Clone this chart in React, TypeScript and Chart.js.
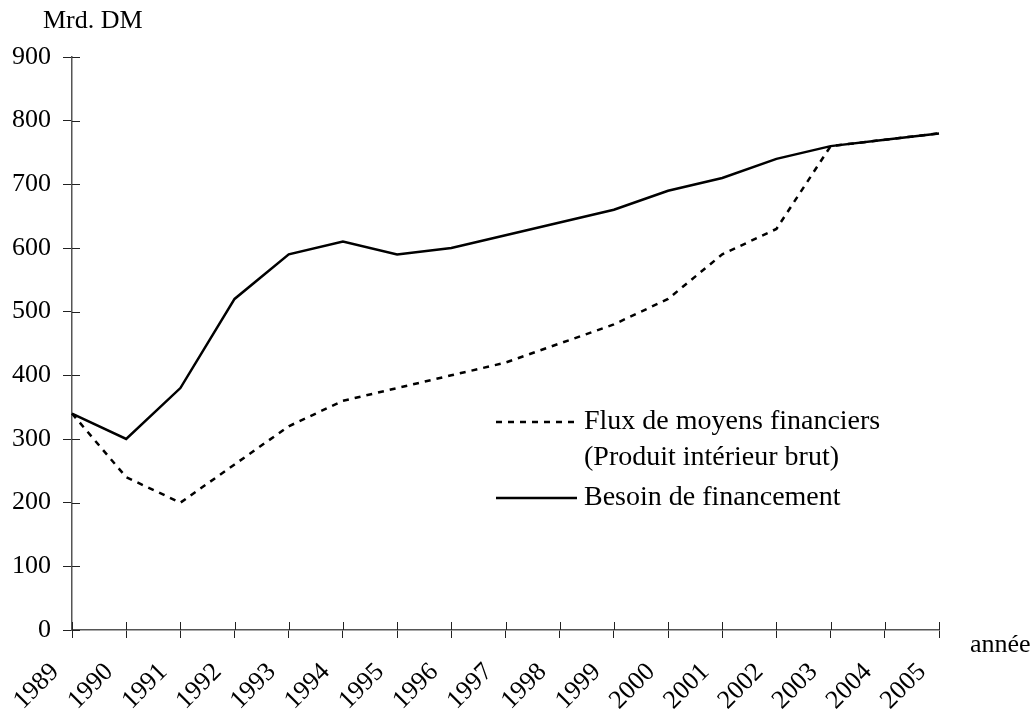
import React, { useEffect, useRef } from 'react';
import { Chart, registerables } from 'chart.js';

Chart.register(...registerables);

const years = ['1989', '1990', '1991', '1992', '1993', '1994', '1995', '1996', '1997', '1998', '1999', '2000', '2001', '2002', '2003', '2004', '2005'];
const fluxValues = [340, 240, 200, 260, 320, 360, 380, 400, 420, 450, 480, 520, 590, 630, 760, 770, 780];
const besoinValues = [340, 300, 380, 520, 590, 610, 590, 600, 620, 640, 660, 690, 710, 740, 760, 770, 780];
const yMin = 0;
const yMax = 900;
const yStep = 100;
const fluxLabel = ['Flux de moyens financiers', '(Produit intérieur brut)'];
const besoinLabel = ['Besoin de financement'];
const yAxisTitle = 'Mrd. DM';
const xAxisTitle = 'année';

const FONT = '"Liberation Serif", "Times New Roman", serif';
const FONT_SIZE = 26;
const LEGEND_FONT_SIZE = 28;
const AXIS_COLOR = '#555555';
const TICK_COLOR = '#222222';
const DASH = [6, 6];

const overlayPlugin = {
  id: 'overlay',
  afterDraw(chart: any) {
    const { ctx, chartArea, scales } = chart;
    const x = scales.x;
    const y = scales.y;
    ctx.save();
    // inner halves of tick marks (ticks cross the axes)
    ctx.strokeStyle = TICK_COLOR;
    ctx.lineWidth = 1;
    ctx.setLineDash([]);
    y.ticks.forEach((_t: any, i: number) => {
      const py = Math.round(y.getPixelForTick(i)) + 0.5;
      ctx.beginPath();
      ctx.moveTo(chartArea.left, py);
      ctx.lineTo(chartArea.left + 8, py);
      ctx.stroke();
    });
    x.ticks.forEach((_t: any, i: number) => {
      const px = Math.round(x.getPixelForTick(i)) + 0.5;
      ctx.beginPath();
      ctx.moveTo(px, chartArea.bottom);
      ctx.lineTo(px, chartArea.bottom - 8);
      ctx.stroke();
    });

    // axis titles
    ctx.fillStyle = '#000';
    ctx.font = `${FONT_SIZE}px ${FONT}`;
    ctx.textBaseline = 'middle';
    ctx.textAlign = 'left';
    ctx.fillText(yAxisTitle, chartArea.left - 29, chartArea.top - 36);
    ctx.fillText(xAxisTitle, chartArea.right + 31, chartArea.bottom + 15);

    // legend
    ctx.font = `${LEGEND_FONT_SIZE}px ${FONT}`;
    const ds = chart.data.datasets;
    const lx0 = 496;
    const lx1 = 577;
    const tx = 584;
    const rows = [
      { d: ds[0], y: 422, lines: fluxLabel },
      { d: ds[1], y: 498, lines: besoinLabel },
    ];
    rows.forEach((r) => {
      ctx.strokeStyle = r.d.borderColor;
      ctx.lineWidth = r.d.borderWidth;
      ctx.setLineDash(r.d.borderDash || []);
      ctx.beginPath();
      ctx.moveTo(lx0, r.y);
      ctx.lineTo(lx1, r.y);
      ctx.stroke();
      ctx.setLineDash([]);
      r.lines.forEach((t: string, i: number) => {
        ctx.fillText(t, tx, r.y + i * 36);
      });
    });
    ctx.restore();
  },
};

export default function App() {
  const ref = useRef<HTMLCanvasElement | null>(null);
  useEffect(() => {
    if (!ref.current) return;
    const chart = new Chart(ref.current, {
      type: 'line',
      data: {
        labels: years,
        datasets: [
          {
            label: fluxLabel.join(' '),
            data: fluxValues,
            borderColor: '#000000',
            borderWidth: 2.5,
            borderDash: DASH,
            pointRadius: 0,
            fill: false,
            tension: 0,
          },
          {
            label: besoinLabel.join(' '),
            data: besoinValues,
            borderColor: '#000000',
            borderWidth: 2.5,
            pointRadius: 0,
            fill: false,
            tension: 0,
          },
        ],
      },
      options: {
        animation: false,
        responsive: true,
        maintainAspectRatio: false,
        layout: { padding: { top: 57, right: 95, left: 0, bottom: 0 } },
        plugins: {
          legend: { display: false },
          tooltip: { enabled: false },
          title: { display: false },
        },
        scales: {
          x: {
            type: 'category',
            offset: false,
            afterFit: (s: any) => {
              s.height = 86;
            },
            grid: {
              offset: false,
              drawOnChartArea: false,
              drawTicks: true,
              tickLength: 8,
              color: TICK_COLOR,
            },
            border: { display: true, color: AXIS_COLOR, width: 1.5 },
            ticks: {
              autoSkip: false,
              maxRotation: 45,
              minRotation: 45,
              padding: 19,
              labelOffset: -17,
              color: '#000',
              font: { family: FONT, size: FONT_SIZE },
            },
          },
          y: {
            type: 'linear',
            min: yMin,
            max: yMax,
            afterFit: (s: any) => {
              s.width = 72;
            },
            grid: {
              drawOnChartArea: false,
              drawTicks: true,
              tickLength: 9,
              color: TICK_COLOR,
            },
            border: { display: true, color: AXIS_COLOR, width: 1.5 },
            ticks: {
              stepSize: yStep,
              padding: 12,
              color: '#000',
              font: { family: FONT, size: FONT_SIZE },
            },
          },
        },
      },
      plugins: [overlayPlugin],
    });
    return () => chart.destroy();
  }, []);
  return (
    <div style={{ position: 'absolute', left: 0, top: 0, width: 1034, height: 716 }}>
      <canvas ref={ref} />
    </div>
  );
}
